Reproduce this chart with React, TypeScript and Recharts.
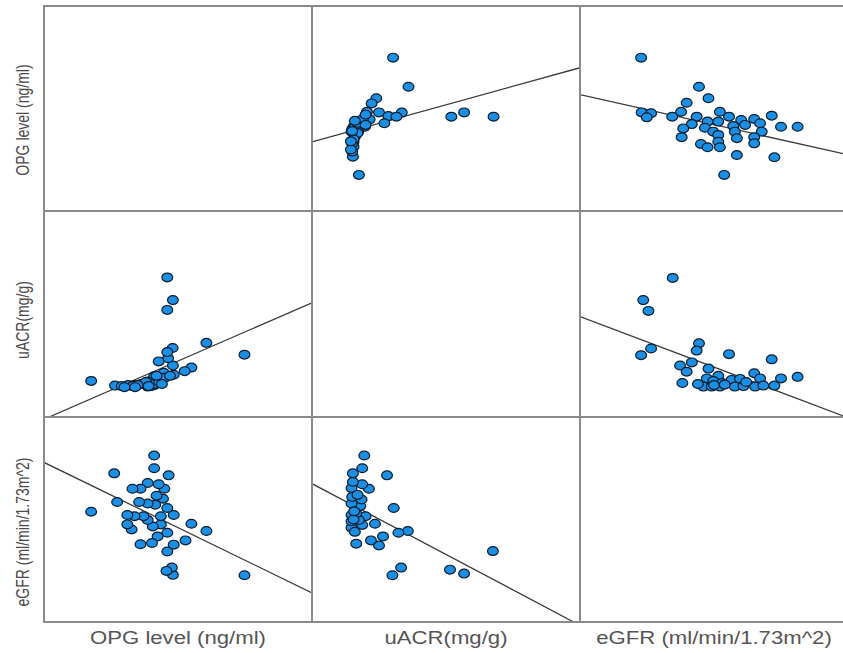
import { ReferenceLine, Scatter, ScatterChart, XAxis, YAxis } from "recharts";

// OPG (ng/ml) vs uACR (mg/g)
const opgUacr: [number, number][] = [
  [7.48, 121], [6.06, 144], [5.5, 96], [5.25, 89], [4.84, 82], [4.81, 100], [4.63, 114],
  [4.8, 134], [4.6, 126], [4.47, 86], [4.28, 108], [4.28, 74], [4.36, 67], [4.11, 62],
  [4.11, 79], [3.87, 69], [3.87, 59], [3.62, 64], [3.38, 62], [3.14, 62], [2.65, 61],
  [1.76, 70], [4.6, 208], [4.81, 227], [4.6, 271], [2.9, 60], [3.3, 60], [3.7, 64],
  [4.0, 60], [4.1, 64], [3.8, 68], [3.5, 62], [4.3, 68], [4.5, 76], [4.2, 80], [4.7, 80],
  [3.9, 60], [4.4, 64], [3.0, 58], [3.4, 58],
];

// OPG (ng/ml) vs eGFR
const opgEgfr: [number, number][] = [
  [7.48, 34.2], [6.06, 66.6], [5.5, 71.9], [5.28, 59.7], [4.84, 56.6], [4.6, 51.6], [4.81, 34.5],
  [4.77, 39.8], [4.57, 37.4], [4.6, 65.3], [4.84, 78.3], [4.6, 83.4], [4.44, 90.2], [4.49, 97.5],
  [4.65, 107.3], [4.24, 62.6], [4.36, 71.4], [4.36, 77.4], [4.03, 57.8], [4.06, 69.9], [4.15, 85.8],
  [4.28, 100.8], [4.11, 112.5], [4.11, 121.8], [3.87, 74.6], [3.87, 86.7], [3.87, 101.7], [3.6, 56.9],
  [3.71, 77.4], [3.55, 87.8], [3.6, 97.5], [3.27, 67.7], [3.11, 71.4], [3.38, 77.4], [3.11, 78.3],
  [3.3, 97.5], [2.73, 87.8], [2.62, 108.8], [1.76, 80.7], [4.2, 92.4],
];

// uACR (mg/g) vs eGFR
const uacrEgfr: [number, number][] = [
  [270, 51.9], [227, 35.4], [206, 38.3], [143, 66.6], [129, 65.3], [133, 39.8], [120, 34.2],
  [122, 83.4], [112, 107.3], [100, 56.0], [106, 62.6], [88, 59.7], [66, 57.3], [94, 71.9],
  [80, 77.4], [75, 71.0], [70, 74.6], [59, 69.0], [59, 73.7], [59, 78.3], [72, 84.9], [74, 89.6],
  [59, 86.7], [85, 97.5], [75, 100.8], [59, 98.0], [61, 102.6], [61, 108.8], [75, 112.5],
  [78, 121.8], [64, 66], [66, 79.5], [60, 91.5], [62, 75], [68, 93], [63, 81],
];

type Var = "opg" | "uacr" | "egfr";
const vars: Var[] = ["opg", "uacr", "egfr"];
const domains: Record<Var, [number, number]> = { opg: [0, 10], uacr: [0, 400], egfr: [0, 150] };
const titles: Record<Var, string> = {
  opg: "OPG level (ng/ml)",
  uacr: "uACR(mg/g)",
  egfr: "eGFR (ml/min/1.73m^2)",
};

const colX = [44, 312, 580];
const rowY = [6, 211, 417];
const rowH = [205, 206, 205];
const PANEL_W = 268;
const FONT = "'Liberation Sans', Arial, sans-serif";

function pairs(xVar: Var, yVar: Var) {
  const table: Record<string, [number, number][]> = {
    "opg-uacr": opgUacr,
    "opg-egfr": opgEgfr,
    "uacr-egfr": uacrEgfr,
  };
  const fwd = table[`${xVar}-${yVar}`];
  if (fwd) return fwd.map(([x, y]) => ({ x, y }));
  return table[`${yVar}-${xVar}`].map(([y, x]) => ({ x, y }));
}

// least squares fit y = a + b x, clipped to the panel box
function fitSegment(points: { x: number; y: number }[], xd: [number, number], yd: [number, number]) {
  const n = points.length;
  const mx = points.reduce((s, p) => s + p.x, 0) / n;
  const my = points.reduce((s, p) => s + p.y, 0) / n;
  let sxy = 0;
  let sxx = 0;
  points.forEach((p) => {
    sxy += (p.x - mx) * (p.y - my);
    sxx += (p.x - mx) ** 2;
  });
  const b = sxy / sxx;
  const a = my - b * mx;
  const xa = (yd[0] - a) / b;
  const xb = (yd[1] - a) / b;
  const lo = Math.max(xd[0], Math.min(xa, xb));
  const hi = Math.min(xd[1], Math.max(xa, xb));
  return [
    { x: lo, y: a + b * lo },
    { x: hi, y: a + b * hi },
  ];
}

const Dot = (props: any) => (
  <ellipse cx={props.cx} cy={props.cy} rx={5.4} ry={4.4} fill="#1b8fe3" stroke="#0b1d2e" strokeWidth={1.2} />
);

function Panel({ r, c }: { r: number; c: number }) {
  const xVar = vars[c];
  const yVar = vars[r];
  const data = pairs(xVar, yVar);
  const seg = fitSegment(data, domains[xVar], domains[yVar]);
  return (
    <div style={{ position: "absolute", left: colX[c], top: rowY[r] }}>
      <ScatterChart width={PANEL_W} height={rowH[r]} margin={{ top: 0, right: 0, bottom: 0, left: 0 }}>
        <XAxis type="number" dataKey="x" domain={domains[xVar]} hide allowDataOverflow />
        <YAxis type="number" dataKey="y" domain={domains[yVar]} hide allowDataOverflow />
        <Scatter data={data} shape={Dot} isAnimationActive={false} />
        <ReferenceLine segment={seg} stroke="#3a3a3a" strokeWidth={1.3} ifOverflow="visible" />
      </ScatterChart>
    </div>
  );
}

const lineColor = "#8a8a8a";

export default function App() {
  const yLabelCenters = [120, 320, 532];
  return (
    <div style={{ position: "absolute", left: 0, top: 0, width: 843, height: 653, background: "#fff", overflow: "hidden" }}>
      {vars.map((_, r) =>
        vars.map((_, c) => (r === c ? null : <Panel key={`${r}-${c}`} r={r} c={c} />))
      )}
      {[6, 211, 417, 622].map((y) => (
        <div key={`h${y}`} style={{ position: "absolute", left: 43, top: y - 1, width: 820, height: 2, background: lineColor }} />
      ))}
      {[44, 312, 580].map((x) => (
        <div key={`v${x}`} style={{ position: "absolute", left: x - 1, top: 5, width: 2, height: 618, background: lineColor }} />
      ))}
      {vars.map((v, c) => (
        <div
          key={`xl${v}`}
          style={{
            position: "absolute",
            left: colX[c] + PANEL_W / 2,
            top: 638,
            transform: "translate(-50%, -50%) scaleX(1.23)",
            fontFamily: FONT,
            fontSize: 18,
            color: "#555",
            whiteSpace: "nowrap",
          }}
        >
          {titles[v]}
        </div>
      ))}
      {vars.map((v, r) => (
        <div
          key={`yl${v}`}
          style={{
            position: "absolute",
            left: 22,
            top: yLabelCenters[r],
            transform: "translate(-50%, -50%) scaleX(1.3) rotate(-90deg)",
            fontFamily: FONT,
            fontSize: 14,
            color: "#4a4a4a",
            whiteSpace: "nowrap",
          }}
        >
          {titles[v]}
        </div>
      ))}
    </div>
  );
}
